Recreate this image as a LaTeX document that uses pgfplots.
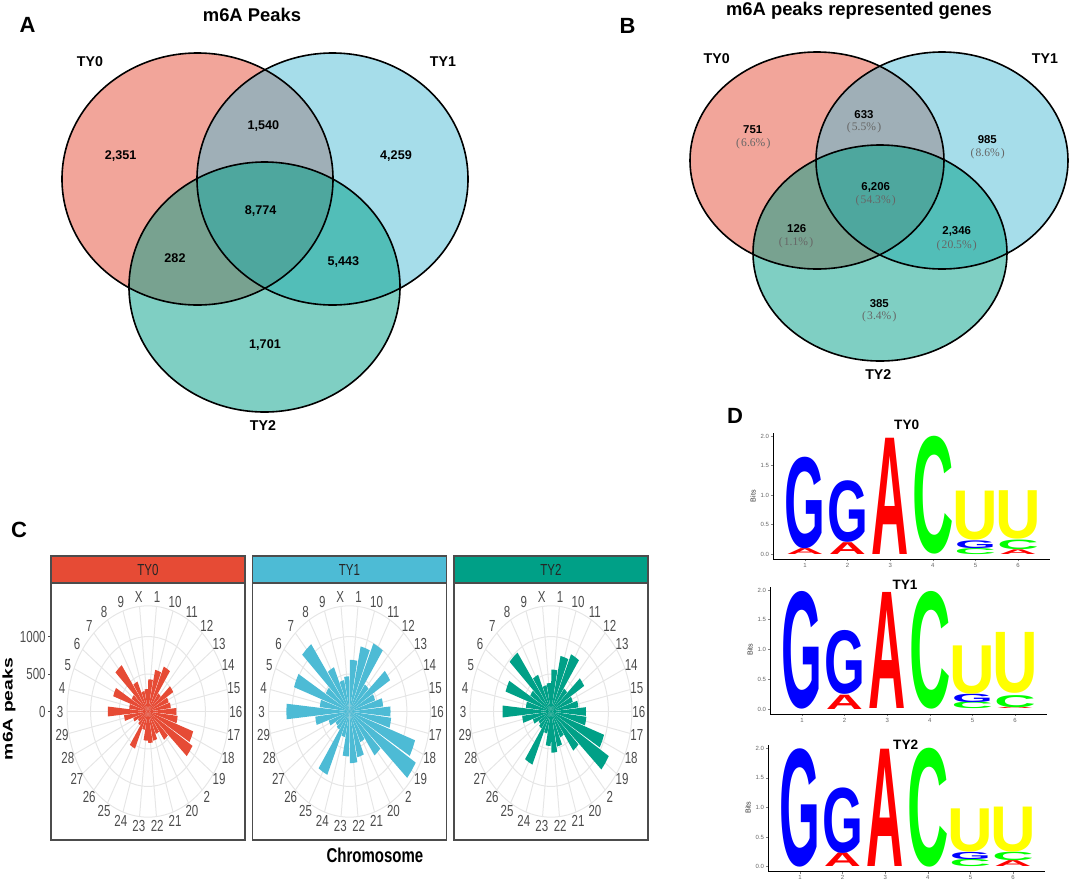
\documentclass[border=0pt]{standalone}
\usepackage{fontspec}
\setmainfont{Liberation Sans}
\newfontfamily\narrowfont[FakeStretch=0.72]{Liberation Sans}
\newfontfamily\seriffont{Liberation Serif}
\usepackage{graphicx}
\usepackage{pgfplots}
\usepackage{pgfplotstable}
\pgfplotsset{compat=1.18}
\pgfplotsset{/pgf/number format/assume math mode=true}
\definecolor{npgred}{HTML}{E64B35}
\definecolor{npgblue}{HTML}{4DBBD5}
\definecolor{npggreen}{HTML}{00A087}
\definecolor{gridc}{HTML}{E6E6E6}
\definecolor{lcG}{HTML}{0000FF}
\definecolor{lcA}{HTML}{FF0000}
\definecolor{lcC}{HTML}{00FF00}
\definecolor{lcU}{HTML}{FFFF00}
\def\lwG{20.4pt}\def\lwA{18.6pt}\def\lwC{20.7pt}\def\lwU{22.8pt}

% ---------- data ----------
\pgfplotstableread{
chr TY0 TY1 TY2
1 430 690 560
10 570 890 760
11 660 1000 840
12 300 450 380
13 510 820 670
14 380 470 400
15 400 590 480
16 495 715 610
17 520 730 620
18 830 1205 975
19 900 1340 1170
2 470 730 650
20 330 450 380
21 400 625 480
22 420 690 550
23 390 600 460
24 250 350 300
25 545 930 780
26 230 300 280
27 200 280 250
28 270 380 330
29 420 600 505
3 700 1100 845
4 330 520 440
5 640 1020 835
6 330 480 420
7 770 1120 980
8 440 650 540
9 280 430 360
X 300 470 380
}\rosedata

\pgfplotstableread{
pos y h L
1 0 0.10 A
1 0.10 1.53 G
2 0 0.20 A
2 0.20 1.03 G
3 0 1.97 A
4 0 1.97 C
5 0 0.10 C
5 0.10 0.13 G
5 0.24 0.82 U
6 0 0.08 A
6 0.08 0.16 C
6 0.25 0.81 U
}\logotya

\pgfplotstableread{
pos y h L
1 0 1.95 G
2 0 0.24 A
2 0.24 1.06 G
3 0 1.95 A
4 0 1.95 C
5 0 0.11 C
5 0.11 0.14 G
5 0.25 0.80 U
6 0 0.03 A
6 0.03 0.20 C
6 0.26 1.01 U
}\logotyb

\pgfplotstableread{
pos y h L
1 0 1.97 G
2 0 0.23 A
2 0.23 1.09 G
3 0 1.98 A
4 0 1.98 C
5 0 0.12 C
5 0.12 0.12 G
5 0.24 0.72 U
6 0 0.10 A
6 0.10 0.14 C
6 0.24 0.75 U
}\logotyc

% ---------- helpers ----------
\tikzset{
  panel/.style={font=\fontsize{11}{13}\selectfont\bfseries},
  vtitle/.style={font=\fontsize{9.2}{11}\selectfont\bfseries, anchor=base},
  vset/.style={font=\fontsize{7.1}{8.5}\selectfont\bfseries},
  vnumA/.style={font=\fontsize{6.3}{7.5}\selectfont\bfseries},
  vnumB/.style={font=\fontsize{5.7}{7}\selectfont\bfseries},
  vpct/.style={font=\seriffont\fontsize{5.8}{7}\selectfont, text=black!60},
  chrlab/.style={font=\narrowfont\fontsize{8}{9}\selectfont, text=black!70, inner sep=0pt},
}

\newcommand\rosecontent[2]{%
  \draw[gridc, line width=0.5pt] (axis cs:0,0) ellipse [x radius=500, y radius=500];
  \draw[gridc, line width=0.5pt] (axis cs:0,0) ellipse [x radius=1000, y radius=1000];
  \draw[gridc, line width=0.5pt] (axis cs:0,0) ellipse [x radius=1410, y radius=1410];
  \pgfplotsinvokeforeach{0,...,29}{%
    \pgfmathsetmacro\xs{1410*sin(12*##1+6)}%
    \pgfmathsetmacro\ys{1410*cos(12*##1+6)}%
    \edef\temp{\noexpand\draw[gridc, line width=0.5pt] (axis cs:0,0) -- (axis cs:\xs,\ys);}\temp
  }%
  \pgfplotsinvokeforeach{0,...,29}{%
    \pgfplotstablegetelem{##1}{#1}\of{\rosedata}%
    \pgfmathsetmacro\rv{\pgfplotsretval}%
    \pgfmathsetmacro\tc{12*##1+6}%
    \pgfmathsetmacro\xa{\rv*sin(\tc-5.4)}\pgfmathsetmacro\ya{\rv*cos(\tc-5.4)}%
    \pgfmathsetmacro\xm{\rv*sin(\tc)}\pgfmathsetmacro\ym{\rv*cos(\tc)}%
    \pgfmathsetmacro\xb{\rv*sin(\tc+5.4)}\pgfmathsetmacro\yb{\rv*cos(\tc+5.4)}%
    \edef\temp{\noexpand\addplot[fill=#2, draw=none, forget plot] coordinates {(0,0) (\xa,\ya) (\xm,\ym) (\xb,\yb) (0,0)};}\temp
  }%
  \pgfplotsinvokeforeach{0,...,29}{%
    \pgfplotstablegetelem{##1}{chr}\of{\rosedata}\let\clab\pgfplotsretval
    \pgfmathsetmacro\xl{1530*sin(12*##1+6)}%
    \pgfmathsetmacro\yl{1530*cos(12*##1+6)}%
    \edef\temp{\noexpand\node[chrlab] at (axis cs:\xl,\yl) {\clab};}\temp
  }%
}

\newcommand\logoletter[2]{\resizebox{\csname lw#1\endcsname}{#2pt}{\textcolor{lc#1}{\bfseries #1}}}
\newcommand\logoletters[3]{%
  \pgfplotsinvokeforeach{0,...,#2}{%
    \pgfplotstablegetelem{##1}{pos}\of{#1}\let\lpos\pgfplotsretval
    \pgfplotstablegetelem{##1}{y}\of{#1}\let\ly\pgfplotsretval
    \pgfplotstablegetelem{##1}{h}\of{#1}\pgfmathsetmacro\lh{\pgfplotsretval*#3}%
    \pgfplotstablegetelem{##1}{L}\of{#1}\let\lL\pgfplotsretval
    \edef\temp{\noexpand\node[anchor=south, inner sep=0pt, outer sep=0pt] at (axis cs:\lpos,\ly) {\noexpand\logoletter{\lL}{\lh}};}\temp
  }%
}

\pgfplotsset{
  roseaxis/.style={scale only axis, width=97pt, height=128.5pt,
    xmin=-1690, xmax=1690, ymin=-1715, ymax=1715,
    xtick=\empty, ytick=\empty, clip=false,
    axis line style={black!70, line width=0.6pt}},
  logoaxis/.style={scale only axis, width=138.5pt, xmin=0.25, xmax=6.75,
    axis x line*=bottom, axis y line*=left,
    axis line style={line width=0.5pt, black},
    xtick={1,...,6}, ytick={0,0.5,1,1.5,2}, yticklabels={0.0,0.5,1.0,1.5,2.0},
    tick align=outside, major tick length=1pt,
    tick style={black!50, line width=0.3pt},
    tick label style={font=\fontsize{3}{3.5}\selectfont, text=black!60, inner sep=0.8pt},
    clip=false},
}

\begin{document}
\begin{tikzpicture}
\path[use as bounding box] (0,0) rectangle (536pt,-441pt);

% ---------- canvas: Venn diagrams and free text ----------
\begin{axis}[name=canvas, at={(0pt,0pt)}, anchor=north west, scale only axis,
  width=536pt, height=441pt, xmin=0, xmax=1072, ymin=0, ymax=882,
  y dir=reverse, hide axis, clip=false]
% Venn A
\fill[npgred, fill opacity=0.5] (axis cs:197.5,179) ellipse [x radius=135.5, y radius=126];
\fill[npgblue, fill opacity=0.5] (axis cs:332.5,179) ellipse [x radius=135.5, y radius=126];
\fill[npggreen, fill opacity=0.5] (axis cs:264.5,287) ellipse [x radius=135.5, y radius=125];
\draw[line width=0.8pt] (axis cs:197.5,179) ellipse [x radius=135.5, y radius=126];
\draw[line width=0.8pt] (axis cs:332.5,179) ellipse [x radius=135.5, y radius=126];
\draw[line width=0.8pt] (axis cs:264.5,287) ellipse [x radius=135.5, y radius=125];
% Venn B
\fill[npgred, fill opacity=0.5] (axis cs:817,160.5) ellipse [x radius=127, y radius=108.5];
\fill[npgblue, fill opacity=0.5] (axis cs:942,160.5) ellipse [x radius=126, y radius=108.5];
\fill[npggreen, fill opacity=0.5] (axis cs:880,253) ellipse [x radius=127, y radius=108];
\draw[line width=0.8pt] (axis cs:817,160.5) ellipse [x radius=127, y radius=108.5];
\draw[line width=0.8pt] (axis cs:942,160.5) ellipse [x radius=126, y radius=108.5];
\draw[line width=0.8pt] (axis cs:880,253) ellipse [x radius=127, y radius=108];

% panel letters
\node[panel] at (axis cs:27.5,25.3) {A};
\node[panel] at (axis cs:627.5,25.8) {B};
\node[panel] at (axis cs:19,530) {C};
\node[panel] at (axis cs:735,416) {D};

% Venn A text
\node[vtitle] at (axis cs:252,21.7) {m6A Peaks};
\node[vset] at (axis cs:90,61.7) {TY0};
\node[vset] at (axis cs:443,61.7) {TY1};
\node[vset] at (axis cs:263,426) {TY2};
\node[vnumA] at (axis cs:120.7,156) {2,351};
\node[vnumA] at (axis cs:263.3,126) {1,540};
\node[vnumA] at (axis cs:396,156) {4,259};
\node[vnumA] at (axis cs:260.7,210.7) {8,774};
\node[vnumA] at (axis cs:175,258.3) {282};
\node[vnumA] at (axis cs:343.3,261.7) {5,443};
\node[vnumA] at (axis cs:265,345) {1,701};

% Venn B text
\node[vtitle] at (axis cs:859,15) {m6A peaks represented genes};
\node[vset] at (axis cs:716.7,58.3) {TY0};
\node[vset] at (axis cs:1045,58.3) {TY1};
\node[vset] at (axis cs:878.3,374.3) {TY2};
\node[vnumB] at (axis cs:752.7,129.3) {751};
\node[vpct] at (axis cs:753.3,143.3) {(\kern0.6pt6.6\%\kern0.6pt)};
\node[vnumB] at (axis cs:864,114.3) {633};
\node[vpct] at (axis cs:864,127.7) {(\kern0.6pt5.5\%\kern0.6pt)};
\node[vnumB] at (axis cs:987.3,140) {985};
\node[vpct] at (axis cs:987.7,153.7) {(\kern0.6pt8.6\%\kern0.6pt)};
\node[vnumB] at (axis cs:875.7,187.7) {6,206};
\node[vpct] at (axis cs:875.7,201) {(\kern0.6pt54.3\%\kern0.6pt)};
\node[vnumB] at (axis cs:796.7,228.7) {126};
\node[vpct] at (axis cs:796,242.3) {(\kern0.6pt1.1\%\kern0.6pt)};
\node[vnumB] at (axis cs:956.7,231.7) {2,346};
\node[vpct] at (axis cs:956.7,245.3) {(\kern0.6pt20.5\%\kern0.6pt)};
\node[vnumB] at (axis cs:879.3,303.3) {385};
\node[vpct] at (axis cs:879.3,316.7) {(\kern0.6pt3.4\%\kern0.6pt)};

% panel C labels
\node[rotate=90, font=\fontsize{7}{8}\selectfont\bfseries] at (axis cs:9,709) {\scalebox{1.38}[1]{m6A peaks}};
\node[font=\fontsize{10}{12}\selectfont\bfseries] at (axis cs:375,855) {\scalebox{0.75}[1]{Chromosome}};

% panel D titles and Bits
\node[font=\fontsize{6.8}{8}\selectfont\bfseries] at (axis cs:906.7,425) {TY0};
\node[font=\fontsize{6.8}{8}\selectfont\bfseries] at (axis cs:905,585) {TY1};
\node[font=\fontsize{6.8}{8}\selectfont\bfseries] at (axis cs:905.7,744.3) {TY2};
\node[rotate=90, font=\fontsize{3.6}{4}\selectfont, text=black!80] at (axis cs:753,496) {Bits};
\node[rotate=90, font=\fontsize{3.6}{4}\selectfont, text=black!80] at (axis cs:750,649.5) {Bits};
\node[rotate=90, font=\fontsize{3.6}{4}\selectfont, text=black!80] at (axis cs:748,807.5) {Bits};
\end{axis}

% ---------- panel C: rose charts ----------
\begin{axis}[roseaxis, name=c0, at={(25.5pt,-291.5pt)}, anchor=north west,
  ytick={0,500,1000}, yticklabels={0,500,1000}, ytick pos=left,
  tick align=outside, major tick length=1.5pt,
  tick style={black!70, line width=0.5pt},
  yticklabel style={font=\narrowfont\fontsize{8}{9}\selectfont, text=black!70, inner sep=1pt}]
\rosecontent{TY0}{npgred}
\end{axis}
\begin{axis}[roseaxis, name=c1, at={(126.25pt,-291.5pt)}, anchor=north west]
\rosecontent{TY1}{npgblue}
\end{axis}
\begin{axis}[roseaxis, name=c2, at={(227pt,-291.5pt)}, anchor=north west]
\rosecontent{TY2}{npggreen}
\end{axis}
\draw[fill=npgred, draw=black!70, line width=0.6pt] (c0.north west) rectangle ([yshift=13.5pt]c0.north east);
\draw[fill=npgblue, draw=black!70, line width=0.6pt] (c1.north west) rectangle ([yshift=13.5pt]c1.north east);
\draw[fill=npggreen, draw=black!70, line width=0.6pt] (c2.north west) rectangle ([yshift=13.5pt]c2.north east);
\node[font=\narrowfont\fontsize{8}{9}\selectfont, text=black!85] at ([yshift=6.75pt]c0.north) {TY0};
\node[font=\narrowfont\fontsize{8}{9}\selectfont, text=black!85] at ([yshift=6.75pt]c1.north) {TY1};
\node[font=\narrowfont\fontsize{8}{9}\selectfont, text=black!85] at ([yshift=6.75pt]c2.north) {TY2};

% ---------- panel D: sequence logos ----------
\begin{axis}[logoaxis, name=d0, at={(386.5pt,-216.65pt)}, anchor=north west,
  height=63pt, ymin=-0.085, ymax=2.05]
\logoletters{\logotya}{11}{29.51}
\end{axis}
\begin{axis}[logoaxis, name=d1, at={(385pt,-293.5pt)}, anchor=north west,
  height=63.5pt, ymin=-0.084, ymax=2.05]
\logoletters{\logotyb}{10}{29.76}
\end{axis}
\begin{axis}[logoaxis, name=d2, at={(384pt,-372.65pt)}, anchor=north west,
  height=63.2pt, ymin=-0.084, ymax=2.05]
\logoletters{\logotyc}{10}{29.62}
\end{axis}
\end{tikzpicture}
\end{document}
